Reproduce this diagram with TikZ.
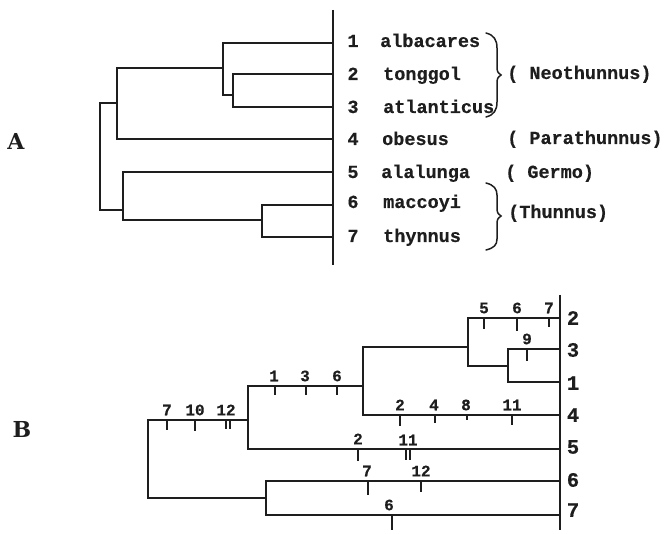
\documentclass[tikz,border=0pt]{standalone}
\usepackage{fontspec}
\newfontfamily\typew{Liberation Mono}[BoldFeatures={FakeBold=0.4}]
\newfontfamily\headfont{DejaVu Serif}
\definecolor{ink}{HTML}{1E1E1E}
\begin{document}
\begin{tikzpicture}[x=1pt,y=-1pt,
  branch/.style={draw=ink,line width=1.7pt,line join=miter},
  axisline/.style={draw=ink,line width=1.7pt},
  tickmark/.style={draw=ink,line width=1.5pt},
  bracepath/.style={draw=ink,line width=1.5pt,line cap=round},
  sptext/.style={font=\typew\bfseries\fontsize{18.5}{20}\selectfont,text=ink,inner sep=0pt,anchor=base west},
  spnum/.style={font=\typew\bfseries\fontsize{18.5}{20}\selectfont,text=ink,inner sep=0pt,anchor=base},
  leafnum/.style={font=\typew\bfseries\fontsize{20.5}{22}\selectfont,text=ink,inner sep=0pt},
  ticklab/.style={font=\typew\bfseries\fontsize{16}{17}\selectfont,text=ink,inner sep=0pt},
  panel/.style={font=\headfont\bfseries\fontsize{22}{24}\selectfont,text=ink,inner sep=0pt}]
\useasboundingbox (0,0) rectangle (669,534);

% ---------------- panel A ----------------
\node[panel] (labA) at (16,141) {A};
\coordinate (axAt) at (333,10);
\coordinate (axAb) at (333,265);
\draw[axisline] (axAt) -- (axAb);

\coordinate (a1) at (333,43);
\coordinate (a2) at (333,74);
\coordinate (a3) at (333,107);
\coordinate (a4) at (333,139);
\coordinate (a5) at (333,172);
\coordinate (a6) at (333,205);
\coordinate (a7) at (333,237);

\coordinate (a23) at (233,95);
\coordinate (a123) at (223,68);
\coordinate (a1234) at (117,103);
\coordinate (a67) at (262,220);
\coordinate (a567) at (123,210);
\coordinate (aroot) at (100,156);

\draw[branch] (a2) -| (a23) |- (a3);
\draw[branch] (a1) -| (a123) |- (a23);
\draw[branch] (a123) -| (a1234) |- (a4);
\draw[branch] (a6) -| (a67) |- (a7);
\draw[branch] (a5) -| (a567) |- (a67);
\draw[branch] (a1234) -| (aroot) |- (a567);

% species list
\foreach \n/\s/\b/\x in {1/albacares/47/380,2/tonggol/80/383,3/atlanticus/113/383,
    4/obesus/145/382,5/alalunga/178/381,6/maccoyi/208/383,7/thynnus/242/383}{
  \node[spnum] (anum\n) at (353,\b) {\n};
  \node[sptext] (aname\n) at (\x,\b) {\s};
}

% genus groupings
\draw[bracepath] (486,33) .. controls (494,35) and (497,40) .. (497,48) -- (497,68)
  .. controls (497,72) and (499,74) .. (501,75) .. controls (499,76) and (497,78) .. (497,82)
  -- (497,102) .. controls (497,110) and (494,115) .. (486,117);
\draw[bracepath] (486,183) .. controls (494,185) and (497,189) .. (497,195) -- (497,209)
  .. controls (497,213) and (499,215) .. (501,216) .. controls (499,217) and (497,219) .. (497,223)
  -- (497,239) .. controls (497,245) and (494,248) .. (486,250);

\node[sptext] (gNeo) at (507,79) {( Neothunnus)};
\node[sptext] (gPara) at (507,144) {( Parathunnus)};
\node[sptext] (gGermo) at (505,178) {( Germo)};
\node[sptext] (gThun) at (508,218) {(Thunnus)};

% ---------------- panel B ----------------
\node[panel] (labB) at (22,429) {B};
\coordinate (axBt) at (560,295);
\coordinate (axBb) at (560,530);
\draw[axisline] (axBt) -- (axBb);

\coordinate (b2) at (560,318);
\coordinate (b3) at (560,349);
\coordinate (b1) at (560,382);
\coordinate (b4) at (560,415);
\coordinate (b5) at (560,449);
\coordinate (b6) at (560,481);
\coordinate (b7) at (560,515);

\coordinate (b31) at (508,366);
\coordinate (b231) at (468,347);
\coordinate (b2314) at (363,386);
\coordinate (b23145) at (248,420);
\coordinate (b67) at (266,498);
\coordinate (broot) at (148,460);

\draw[branch] (b3) -| (b31) |- (b1);
\draw[branch] (b2) -| (b231) |- (b31);
\draw[branch] (b231) -| (b2314) |- (b4);
\draw[branch] (b2314) -| (b23145) |- (b5);
\draw[branch] (b6) -| (b67) |- (b7);
\draw[branch] (b23145) -| (broot) |- (b67);

% leaf numbers
\foreach \n/\y in {2/318,3/350,1/383,4/415,5/447,6/480,7/510}{
  \node[leafnum] (bleaf\n) at (573,\y) {\n};
}

% character-change marks: x / branch y / length / label / label x
\foreach \x/\y/\l/\t/\tx [count=\i] in {
   484/318/11/5/484, 517/318/13/6/517, 549/318/9/7/549,
   527/349/12/9/527,
   275/386/9/1/274, 306/386/9/3/305, 337/386/9/6/337,
   167/420/10/7/167, 195/420/11/10/195,
   400/415/11/2/400, 435/415/8/4/434, 467/415/5/8/466, 512/415/10/11/512,
   358/449/12/2/358,
   368/481/14/7/367, 421/481/11/12/421,
   392/515/15/6/389}{
  \draw[tickmark] (\x,\y) -- (\x,\y+\l);
  \node[ticklab] (tl\i) at (\tx,\y-10) {\t};
}
% double marks
\draw[tickmark,line width=1.2pt] (226,420) -- (226,429);
\draw[tickmark,line width=1.2pt] (230,420) -- (230,429);
\node[ticklab] (tl12a) at (226,410) {12};
\draw[tickmark,line width=1.2pt] (406,449) -- (406,460);
\draw[tickmark,line width=1.2pt] (410,449) -- (410,460);
\node[ticklab] (tl11b) at (408,440) {11};
\end{tikzpicture}
\end{document}
